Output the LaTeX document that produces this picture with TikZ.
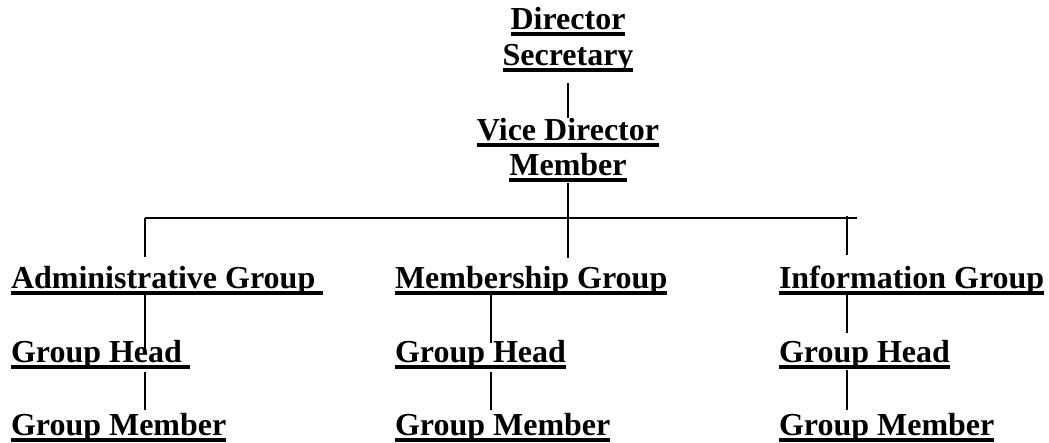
\documentclass[tikz,border=0pt]{standalone}
\usepackage{fontspec}
\setmainfont{Liberation Serif}
\newcommand\ulbox[1]{\setbox0\hbox{#1}\rlap{\rule[-7pt]{\wd0}{4pt}}\box0}
\tikzset{
  lbl/.style={inner sep=0pt, outer sep=0pt, font=\fontsize{32}{38}\selectfont\bfseries},
  lblc/.style={lbl, anchor=base},
  lbll/.style={lbl, anchor=base west},
  conn/.style={line width=1.4pt, black}
}
\begin{document}
\begin{tikzpicture}[x=1pt,y=-1pt]
\useasboundingbox (0,0) rectangle (1049,442);
% top nodes
\node[lblc] (dir) at (568,29) {\ulbox{Director}};
\node[lblc] (sec) at (568,65) {\ulbox{Secretary}};
\node[lblc] (vd)  at (568,140) {\ulbox{Vice Director}};
\node[lblc] (mem) at (568,175) {\ulbox{Member}};
% groups
\node[lbll] (adm) at (11,288) {\ulbox{Administrative Group\ }};
\node[lbll] (msh) at (395,288) {\ulbox{Membership Group}};
\node[lbll] (inf) at (779,288) {\ulbox{Information Group}};
\node[lbll] (gh1) at (11,362) {\ulbox{Group Head\ }};
\node[lbll] (gh2) at (395,362) {\ulbox{Group Head}};
\node[lbll] (gh3) at (779,362) {\ulbox{Group Head}};
\node[lbll] (gm1) at (11,435) {\ulbox{Group Member}};
\node[lbll] (gm2) at (395,435) {\ulbox{Group Member}};
\node[lbll] (gm3) at (779,435) {\ulbox{Group Member}};
% connector columns
\coordinate (xA) at (145,0);
\coordinate (xM) at (491,0);
\coordinate (xI) at (847,0);
\coordinate (barL) at (145,218);
\coordinate (barR) at (857,218);
% connectors
\draw[conn] (568,83) -- (568,118);
\draw[conn] (568,183) -- (568,258);
\draw[conn] (barL) -- (barR);
\draw[conn] (barL) -- (145,257);
\draw[conn] (847,216) -- (847,255);
\draw[conn] (xA |- 0,295) -- (xA |- 0,350);
\draw[conn] (xA |- 0,372) -- (xA |- 0,410);
\draw[conn] (xM |- 0,295) -- (xM |- 0,343);
\draw[conn] (xM |- 0,372) -- (xM |- 0,410);
\draw[conn] (xI |- 0,295) -- (xI |- 0,333);
\draw[conn] (xI |- 0,370) -- (xI |- 0,410);
\end{tikzpicture}
\end{document}
